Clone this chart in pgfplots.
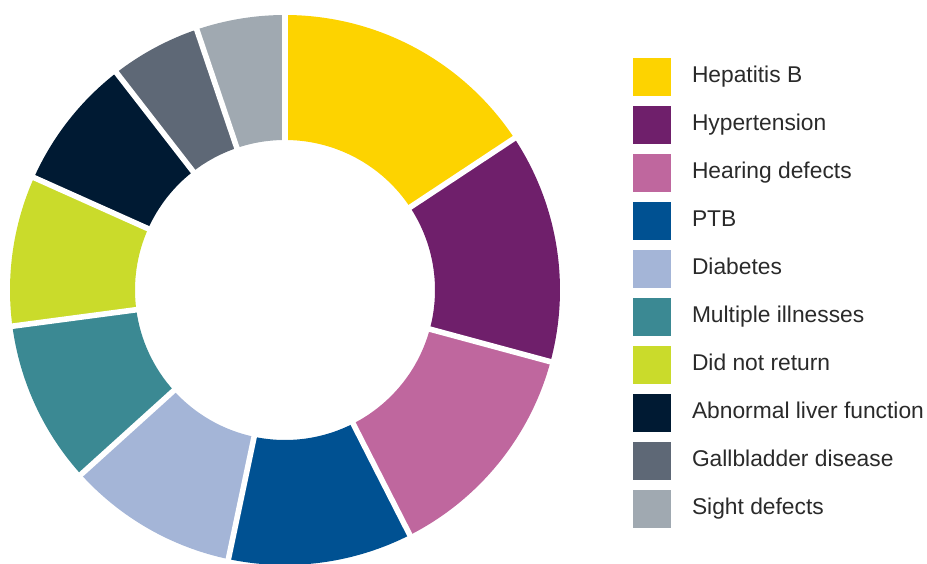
\documentclass[border=0pt]{standalone}
\usepackage{pgfplots}
\pgfplotsset{compat=1.18}
\usepackage{pgfplotstable}
\usepackage{fontspec}
\setmainfont{Liberation Sans}

\definecolor{c0}{HTML}{FDD300}
\definecolor{c1}{HTML}{6F1F6B}
\definecolor{c2}{HTML}{BF679E}
\definecolor{c3}{HTML}{005192}
\definecolor{c4}{HTML}{A4B5D7}
\definecolor{c5}{HTML}{3B8993}
\definecolor{c6}{HTML}{CADB2B}
\definecolor{c7}{HTML}{001A33}
\definecolor{c8}{HTML}{5E6876}
\definecolor{c9}{HTML}{A0A9B1}
\definecolor{textgray}{HTML}{2A2A2A}

\pgfplotstableread[col sep=comma]{
label,value
Hepatitis B,15.7
Hypertension,13.5
Hearing defects,13.3
PTB,10.8
Diabetes,10.0
Multiple illnesses,9.6
Did not return,8.8
Abnormal liver function,7.8
Gallbladder disease,5.3
Sight defects,5.2
}\datatable

\begin{document}
\begin{tikzpicture}
\pgfmathsetmacro\cum{0}
\pgfplotsforeachungrouped \i in {0,...,9}{%
  \pgfplotstablegetelem{\i}{value}\of\datatable
  \pgfmathsetmacro\a{90-3.6*\cum}%
  \pgfmathsetmacro\cumnew{\cum+\pgfplotsretval}%
  \pgfmathsetmacro\b{90-3.6*\cumnew}%
  \expandafter\xdef\csname sa\i\endcsname{\a}%
  \expandafter\xdef\csname ea\i\endcsname{\b}%
  \global\let\cum\cumnew
}
\begin{axis}[
  name=ax,
  x=0.5pt, y=0.5pt,
  xmin=0, xmax=927, ymin=0, ymax=563,
  hide axis, clip=true,
  legend image code/.code={\fill[#1] (0pt,-6.8pt) rectangle (19pt,12.2pt);},
  legend style={at={(axis cs:633,505)}, anchor=north west, draw=none, fill=none,
    inner sep=0pt, outer sep=0pt, row sep=5pt, column sep=10.5pt,
    cells={anchor=base west},
    nodes={inner sep=0pt, text=textgray, font=\fontsize{11.4}{13}\selectfont}},
]
\pgfplotsinvokeforeach{0,...,9}{
  \fill[c#1] (axis cs:{285+275*cos(\csname sa#1\endcsname)},{273+275*sin(\csname sa#1\endcsname)})
    arc[start angle=\csname sa#1\endcsname, end angle=\csname ea#1\endcsname, radius=137.5pt]
    -- (axis cs:{285+150*cos(\csname ea#1\endcsname)},{273+150*sin(\csname ea#1\endcsname)})
    arc[start angle=\csname ea#1\endcsname, end angle=\csname sa#1\endcsname, radius=75pt]
    -- cycle;
}
\pgfplotsinvokeforeach{0,...,9}{
  \draw[white, line width=2.8pt]
    (axis cs:{285+140*cos(\csname sa#1\endcsname)},{273+140*sin(\csname sa#1\endcsname)})
    -- (axis cs:{285+285*cos(\csname sa#1\endcsname)},{273+285*sin(\csname sa#1\endcsname)});
}
\addlegendimage{fill=c0, draw=none}
\addlegendimage{fill=c1, draw=none}
\addlegendimage{fill=c2, draw=none}
\addlegendimage{fill=c3, draw=none}
\addlegendimage{fill=c4, draw=none}
\addlegendimage{fill=c5, draw=none}
\addlegendimage{fill=c6, draw=none}
\addlegendimage{fill=c7, draw=none}
\addlegendimage{fill=c8, draw=none}
\addlegendimage{fill=c9, draw=none}
\legend{Hepatitis B, Hypertension, Hearing defects, PTB, Diabetes, Multiple illnesses, Did not return, Abnormal liver function, Gallbladder disease, Sight defects}
\end{axis}
\pgfresetboundingbox
\path (ax.south west) rectangle (ax.north east);
\end{tikzpicture}
\end{document}
